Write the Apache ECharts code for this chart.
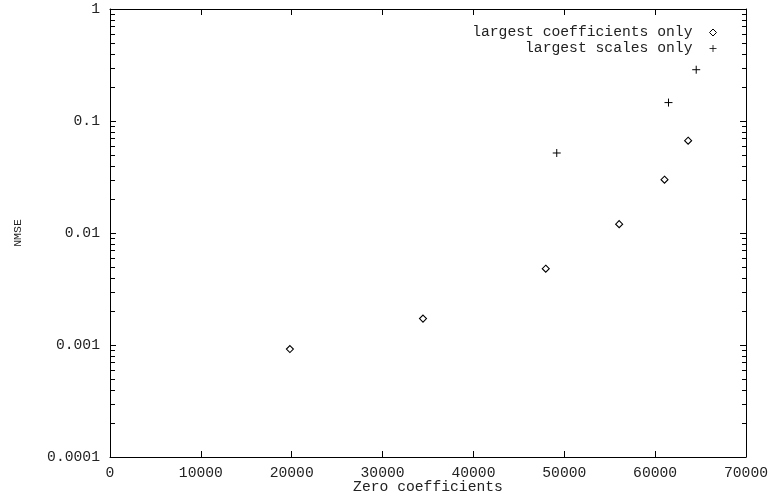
<!DOCTYPE html>
<html>
<head>
<meta charset="utf-8">
<script src="https://cdn.jsdelivr.net/npm/echarts@6/dist/echarts.min.js"></script>
<style>
html,body{margin:0;padding:0;background:#fff;}
#main{width:770px;height:496px;}
</style>
</head>
<body>
<div id="main"></div>
<script>
// ---- data ----
var coeffX = [19800, 34450, 47960, 56040, 61030, 63630];
var coeffY = [0.00092, 0.00172, 0.0048, 0.0120, 0.0299, 0.0667];
var scalesX = [49170, 61470, 64520];
var scalesY = [0.0518, 0.146, 0.287];
var seriesNames = ['largest coefficients only', 'largest scales only'];
var xTickLabels = ['0', '10000', '20000', '30000', '40000', '50000', '60000', '70000'];
var yTickLabels = ['0.0001', '0.001', '0.01', '0.1', '1'];
var xTitle = 'Zero coefficients';
var yTitle = 'NMSE';

// minor tick positions on the log axis (2..9 x each decade)
var minorVals = [];
for (var e = -4; e < 0; e++) {
  for (var m = 2; m <= 9; m++) minorVals.push(m * Math.pow(10, e));
}

var FONT = 'Liberation Mono';
var TXT = '#222';
var chart = echarts.init(document.getElementById('main'), null, {renderer: 'canvas'});

function yFmt(v) {
  var k = Math.round(Math.log10(v)) + 4;
  return yTickLabels[k] !== undefined ? yTickLabels[k] : '';
}
function xFmt(v) {
  var k = Math.round(v / 10000);
  return xTickLabels[k] !== undefined ? xTickLabels[k] : '';
}

var axisLineStyle = {show: true, onZero: false, lineStyle: {color: '#000', width: 1}};
var tickStyle = {show: true, inside: true, length: 6, lineStyle: {color: '#000', width: 1}};
var diamondStyle = {color: '#fff', borderColor: '#000', borderWidth: 1.1, opacity: 1};
var plusStyle = {color: '#000', borderColor: '#000', borderWidth: 1, opacity: 1};
var plusPath = 'path://M0,4L8,4M4,0L4,8';

chart.setOption({
  animation: false,
  backgroundColor: '#fff',
  grid: {left: 110, right: 24, top: 9, bottom: 39, containLabel: false, outerBoundsMode: 'none'},
  legend: {
    data: [
      {name: seriesNames[0], icon: 'diamond', itemStyle: {color: '#fff', borderColor: '#000', borderWidth: 1}},
      {name: seriesNames[1], icon: plusPath, itemStyle: {color: '#000', borderColor: '#000', borderWidth: 0.8}}
    ],
    orient: 'vertical',
    align: 'right',
    right: 48,
    top: 20,
    itemWidth: 7,
    itemHeight: 7,
    itemGap: 1,
    selectedMode: false,
    textStyle: {fontFamily: FONT, fontSize: 14.7, color: TXT, padding: [0, 12, 0, 0]}
  },
  xAxis: [{
    type: 'value', min: 0, max: 70000, interval: 10000,
    position: 'bottom',
    name: xTitle, nameLocation: 'middle', nameGap: 23, nameMoveOverlap: false,
    nameTextStyle: {fontFamily: FONT, fontSize: 14.7, color: TXT},
    axisLine: axisLineStyle,
    axisTick: tickStyle,
    axisLabel: {fontFamily: FONT, fontSize: 14.7, color: TXT, margin: 9, formatter: xFmt},
    splitLine: {show: false}
  }, {
    type: 'value', min: 0, max: 70000, interval: 10000,
    position: 'top',
    axisLine: axisLineStyle,
    axisTick: tickStyle,
    axisLabel: {show: false},
    splitLine: {show: false}
  }],
  yAxis: [{
    type: 'log', logBase: 10, min: 0.0001, max: 1,
    position: 'left',
    name: yTitle, nameLocation: 'middle', nameGap: 86, nameMoveOverlap: false,
    nameTextStyle: {fontFamily: FONT, fontSize: 11.5, color: TXT},
    axisLine: axisLineStyle,
    axisTick: tickStyle,
    axisLabel: {fontFamily: FONT, fontSize: 14.7, color: TXT, margin: 10, formatter: yFmt},
    splitLine: {show: false},
    minorTick: {show: false}
  }, {
    type: 'log', logBase: 10, min: 0.0001, max: 1,
    position: 'right',
    axisLine: axisLineStyle,
    axisTick: tickStyle,
    axisLabel: {show: false},
    splitLine: {show: false}
  }],
  series: [{
    name: seriesNames[0],
    type: 'scatter',
    symbol: 'diamond',
    symbolSize: 7,
    itemStyle: diamondStyle,
    emphasis: {disabled: true},
    data: coeffX.map(function (x, i) { return [x, coeffY[i]]; }),
    z: 5
  }, {
    name: seriesNames[1],
    type: 'scatter',
    symbol: plusPath,
    symbolSize: 8,
    itemStyle: plusStyle,
    emphasis: {disabled: true},
    data: scalesX.map(function (x, i) { return [x, scalesY[i]]; }),
    z: 5
  }]
});

// minor ticks on the log axis, placed through the chart's own scale
var gfx = [];
minorVals.forEach(function (v) {
  var pl = chart.convertToPixel({xAxisIndex: 0, yAxisIndex: 0}, [0, v]);
  var pr = chart.convertToPixel({xAxisIndex: 0, yAxisIndex: 0}, [70000, v]);
  var y = Math.round(pl[1]) + 0.5;
  var xl = Math.round(pl[0]);
  var xr = Math.round(pr[0]);
  gfx.push({type: 'line', z: 100, zlevel: 1, silent: true,
    shape: {x1: xl + 1, y1: y, x2: xl + 5, y2: y},
    style: {stroke: '#000', lineWidth: 1}});
  gfx.push({type: 'line', z: 100, zlevel: 1, silent: true,
    shape: {x1: xr, y1: y, x2: xr - 4, y2: y},
    style: {stroke: '#000', lineWidth: 1}});
});
chart.setOption({graphic: gfx});
</script>
</body>
</html>
